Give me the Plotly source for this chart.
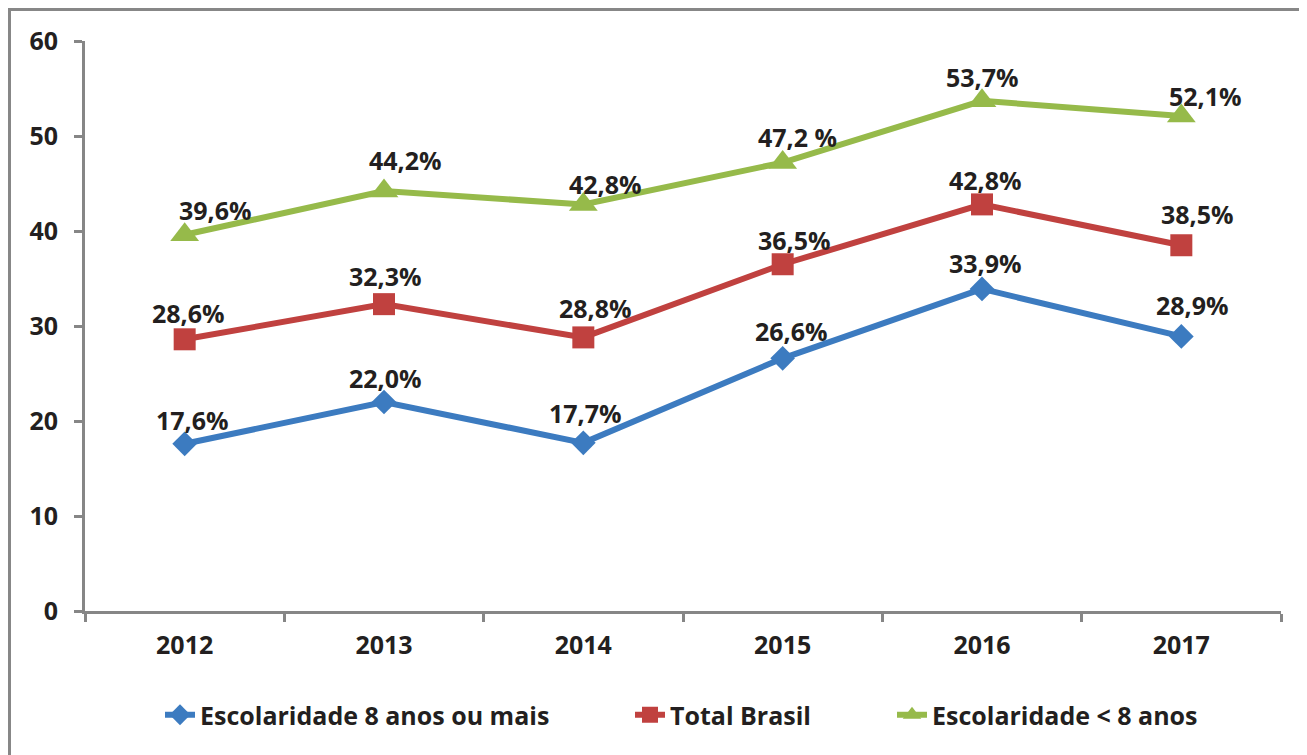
import plotly.graph_objects as go

years = ["2012", "2013", "2014", "2015", "2016", "2017"]
esc8_mais = [17.6, 22.0, 17.7, 26.6, 33.9, 28.9]
total_brasil = [28.6, 32.3, 28.8, 36.5, 42.8, 38.5]
esc_menos8 = [39.6, 44.2, 42.8, 47.2, 53.7, 52.1]

labels_esc8 = ["17,6%", "22,0%", "17,7%", "26,6%", "33,9%", "28,9%"]
labels_total = ["28,6%", "32,3%", "28,8%", "36,5%", "42,8%", "38,5%"]
labels_menos8 = ["39,6%", "44,2%", "42,8%", "47,2 %", "53,7%", "52,1%"]

names = ["Escolaridade 8 anos ou mais", "Total Brasil", "Escolaridade < 8 anos"]
colors = ["#3C7BC0", "#C0413F", "#96BA4A"]
symbols = ["diamond", "square", "triangle-up"]
msizes = [19, 22, 25]

# label offsets (style only, in pixels)
xshift_lbl = [[8, 1, 2, 9, 3, 11], [4, 1, 12, 12, 3, 16], [31, 21, 22, 15, 0, 24]]
yshift_lbl = [[24, 24, 30, 27, 26, 31], [26, 28, 29, 24, 24, 31], [25, 31, 20, 26, 24, 20]]

FONT = "Open Sans"
TXT = "#231F20"
AX = "#868686"

# page offset of 8px (body margin) accounted for in margins
W, H = 1307, 755
ml, mt = 77, 33
pw, ph = 1196, 570
mr = W - ml - pw
mb = H - mt - ph

def px_x(page_x):
    return (page_x - 85) / pw

def px_y(page_y):
    return (611 - page_y) / ph

fig = go.Figure()
series = [esc8_mais, total_brasil, esc_menos8]
lbls = [labels_esc8, labels_total, labels_menos8]
legend_ids = ["legend", "legend2", "legend3"]
for i in range(3):
    fig.add_trace(go.Scatter(
        x=years, y=series[i], name=names[i], mode="lines+markers",
        line=dict(color=colors[i], width=6),
        marker=dict(symbol=symbols[i], size=msizes[i], color=colors[i]),
        legend=legend_ids[i],
    ))

annotations = []
for i in range(3):
    for j in range(len(years)):
        annotations.append(dict(
            x=j, y=series[i][j], xref="x", yref="y", text="<b>" + lbls[i][j] + "</b>",
            showarrow=False, xshift=xshift_lbl[i][j], yshift=yshift_lbl[i][j],
            font=dict(family=FONT, size=25, color=TXT),
        ))

leg_font = dict(family=FONT, size=25, color=TXT, weight="bold")
legend_text_start = [200, 670, 932]
leg = {}
for k, lid in enumerate(legend_ids):
    leg[lid] = dict(orientation="h", x=px_x(legend_text_start[k] - 40), xanchor="left",
                    y=px_y(715), yanchor="middle", font=leg_font, bgcolor="rgba(0,0,0,0)")

fig.update_layout(
    width=W, height=H,
    margin=dict(l=ml, r=mr, t=mt, b=mb, autoexpand=False),
    paper_bgcolor="white", plot_bgcolor="white",
    font=dict(family=FONT, size=25, color=TXT, weight="bold"),
    showlegend=True,
    annotations=annotations,
    shapes=[dict(type="rect", xref="paper", yref="paper",
                 x0=(1.5 - ml) / pw, x1=1.2, y0=-0.4, y1=1 + (mt - 1.5) / ph,
                 line=dict(color="#878787", width=3), fillcolor="rgba(0,0,0,0)", layer="below")],
    **leg,
)
fig.update_xaxes(type="category", tickson="boundaries", ticks="outside", ticklen=8, tickwidth=3,
                 tickcolor=AX, showline=True, linecolor=AX, linewidth=3, showgrid=False,
                 ticklabelstandoff=10, range=[-0.5, 5.5])
fig.update_yaxes(range=[0, 60], dtick=10, ticks="outside", ticklen=8, tickwidth=3, tickcolor=AX,
                 showline=True, linecolor=AX, linewidth=3, showgrid=False, zeroline=False,
                 ticklabelstandoff=11)

fig.write_html("out.html")
